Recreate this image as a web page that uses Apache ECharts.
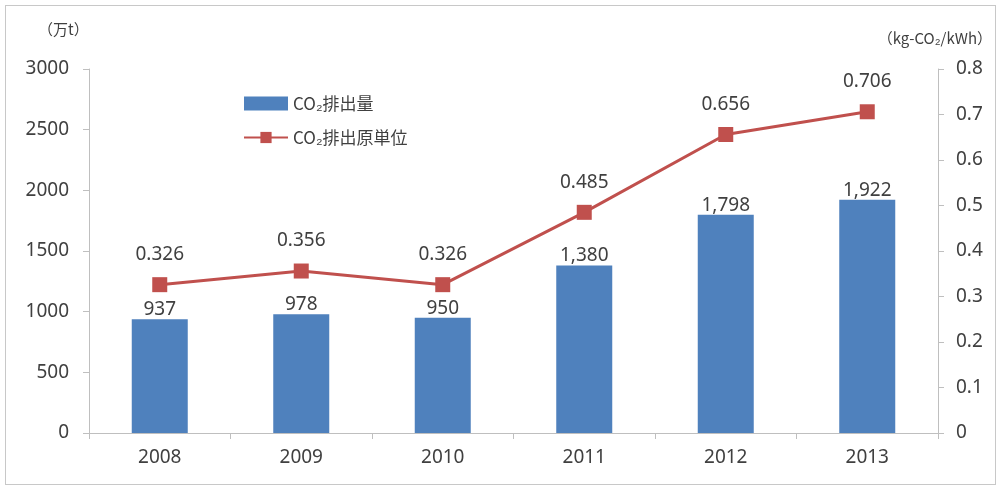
<!DOCTYPE html>
<html>
<head>
<meta charset="utf-8">
<script src="https://cdn.jsdelivr.net/npm/echarts@6/dist/echarts.min.js"></script>
<style>
  html, body { margin: 0; padding: 0; background: #fff; }
  #frame { position: absolute; left: 5px; top: 5px; width: 991px; height: 480px; border: 1px solid #c8c8c8; box-sizing: border-box; }
  #chart { position: absolute; left: 0; top: 0; width: 1002px; height: 488px; }
</style>
</head>
<body>
<div id="frame"></div>
<div id="chart"></div>
<script>
const years = ['2008', '2009', '2010', '2011', '2012', '2013'];
const emissions = [937, 978, 950, 1380, 1798, 1922];          // 万t
const intensity = [0.326, 0.356, 0.326, 0.485, 0.656, 0.706]; // kg-CO2/kWh
const leftTicks = { min: 0, max: 3000, interval: 500 };
const rightTicks = { min: 0, max: 0.8, interval: 0.1 };

const txt = '#404040';
const font = '"Noto Sans", "Noto Sans CJK JP", sans-serif';
const cjk = '"Noto Sans CJK JP", sans-serif';
const fs = 19;

const chart = echarts.init(document.getElementById('chart'));
chart.setOption({
  animation: false,
  textStyle: { fontFamily: font, color: txt },
  grid: { left: 89, right: 64, top: 69, bottom: 55 },
  legend: {
    orient: 'vertical',
    left: 238, top: 90,
    itemGap: 17,
    itemWidth: 44, itemHeight: 14,
    textStyle: { fontSize: 17, color: txt, fontFamily: cjk },
    data: [
      { name: 'CO₂排出量', icon: 'rect' },
      { name: 'CO₂排出原単位' }
    ]
  },
  graphic: [
    { type: 'text', left: 38, top: 22, style: { text: '（万t）', fontSize: 15, fill: txt, fontFamily: cjk } },
    { type: 'text', right: 10, top: 31, style: { text: '（kg-CO₂/kWh）', fontSize: 15, fill: txt, fontFamily: cjk } }
  ],
  xAxis: {
    type: 'category',
    data: years,
    axisLine: { lineStyle: { color: '#bfbfbf' } },
    axisTick: { show: true, length: 6, lineStyle: { color: '#bfbfbf' } },
    axisLabel: { fontSize: fs, color: txt, margin: 15 }
  },
  yAxis: [
    {
      type: 'value', ...leftTicks,
      splitLine: { show: false },
      axisLine: { show: true, lineStyle: { color: '#bfbfbf' } },
      axisTick: { show: true, length: 6, lineStyle: { color: '#bfbfbf' } },
      axisLabel: { fontSize: fs, color: txt, margin: 20, formatter: v => String(v) }
    },
    {
      type: 'value', ...rightTicks,
      splitLine: { show: false },
      axisLine: { show: true, lineStyle: { color: '#bfbfbf' } },
      axisTick: { show: true, length: 6, lineStyle: { color: '#bfbfbf' } },
      axisLabel: { fontSize: fs, color: txt, margin: 18, formatter: v => (v === 0 ? '0' : v.toFixed(1)) }
    }
  ],
  series: [
    {
      name: 'CO₂排出量',
      type: 'bar',
      data: emissions,
      barWidth: 56,
      itemStyle: { color: '#4f81bd' },
      label: {
        show: true, position: 'top', distance: 0,
        fontSize: fs, color: txt,
        formatter: p => p.value.toLocaleString('en-US')
      }
    },
    {
      name: 'CO₂排出原単位',
      type: 'line',
      yAxisIndex: 1,
      data: intensity,
      symbol: 'rect',
      symbolSize: 15,
      itemStyle: { color: '#c0504d' },
      lineStyle: { color: '#c0504d', width: 3 },
      label: {
        show: true, position: 'top', distance: 13,
        fontSize: fs, color: txt,
        formatter: p => p.value.toFixed(3)
      },
      z: 3
    }
  ]
});
</script>
</body>
</html>
